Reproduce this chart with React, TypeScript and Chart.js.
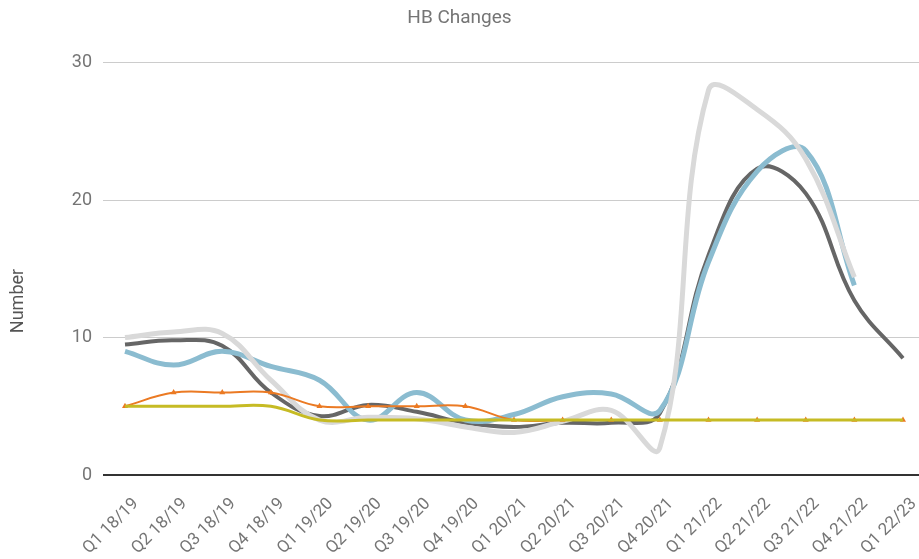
import { useEffect, useRef } from 'react';
import { Chart, registerables } from 'chart.js';

Chart.register(...registerables);

const categories = [
  'Q1 18/19', 'Q2 18/19', 'Q3 18/19', 'Q4 18/19',
  'Q1 19/20', 'Q2 19/20', 'Q3 19/20', 'Q4 19/20',
  'Q1 20/21', 'Q2 20/21', 'Q3 20/21', 'Q4 20/21',
  'Q1 21/22', 'Q2 21/22', 'Q3 21/22', 'Q4 21/22',
  'Q1 22/23',
];

const seriesDark = [9.5, 9.8, 9.4, 6.0, 4.3, 5.1, 4.6, 3.8, 3.5, 3.8, 3.8, 4.5, 16.0, 22.3, 20.5, 12.7, 8.5];
const seriesBlue = [9.0, 8.0, 9.0, 7.9, 6.9, 4.0, 6.0, 4.0, 4.4, 5.7, 5.9, 4.7, 15.5, 22.1, 23.6, 13.8, null];
const seriesLight = [10.0, 10.4, 10.3, 6.9, 4.0, 4.2, 4.1, 3.5, 3.1, 3.9, 4.7, 2.0, 28.0, 26.6, 23.0, 14.4, null];
const seriesOrange = [5, 6, 6, 6, 5, 5, 5, 5, 4, 4, 4, 4, 4, 4, 4, 4, 4];
const seriesOlive = [5, 5, 5, 5, 4, 4, 4, 4, 4, 4, 4, 4, 4, 4, 4, 4, 4];
const yTicks = [0, 10, 20, 30];
const yAxisTitle = 'Number';

const TEXT = '#757575';
const FONT = 'Roboto';

const gridColor = (ctx: any) => (ctx.tick && ctx.tick.value === 0 ? '#333333' : '#cccccc');
const gridWidth = (ctx: any) => (ctx.tick && ctx.tick.value === 0 ? 2 : 1);

const yTitlePlugin = {
  id: 'yTitlePlugin',
  afterDraw(chart: any) {
    const ctx = chart.ctx;
    const area = chart.chartArea;
    ctx.save();
    ctx.translate(18, area.bottom - 174);
    ctx.rotate(-Math.PI / 2);
    ctx.fillStyle = '#555555';
    ctx.font = `18px ${FONT}`;
    ctx.textAlign = 'center';
    ctx.textBaseline = 'middle';
    ctx.fillText(yAxisTitle, 0, 0);
    ctx.restore();
  },
};

export default function App() {
  const ref = useRef<HTMLCanvasElement | null>(null);

  useEffect(() => {
    document.body.style.margin = '0';
    const canvas = ref.current;
    if (!canvas) return;
    const chart = new Chart(canvas, {
      type: 'line',
      data: {
        labels: categories,
        datasets: [
          { data: seriesOlive, borderColor: '#c6bb24', borderWidth: 3, pointRadius: 0, tension: 0.4 },
          {
            data: seriesOrange, borderColor: '#eb7a23', borderWidth: 2, tension: 0.4,
            pointStyle: 'triangle', pointRadius: 3.5, pointBackgroundColor: '#eb7a23', pointBorderWidth: 0,
          },
          { data: seriesLight, borderColor: '#d9d9d9', borderWidth: 5, pointRadius: 0, tension: 0.4 },
          { data: seriesBlue, borderColor: '#8bbcd0', borderWidth: 5, pointRadius: 0, tension: 0.4 },
          { data: seriesDark, borderColor: '#666666', borderWidth: 4, pointRadius: 0, tension: 0.4 },
        ],
      },
      options: {
        responsive: false,
        animation: false,
        layout: { padding: 0 },
        plugins: {
          legend: { display: false },
          tooltip: { enabled: false },
          title: {
            display: true,
            text: 'HB Changes',
            color: TEXT,
            font: { family: FONT, size: 19, weight: 'normal' },
            padding: { top: 7, bottom: 33 },
          },
        },
        scales: {
          x: {
            type: 'category',
            offset: false,
            grid: { display: false, drawTicks: true, tickLength: 15 },
            border: { display: false },
            ticks: {
              color: TEXT,
              font: { family: FONT, size: 17 },
              maxRotation: 45,
              minRotation: 45,
              autoSkip: false,
              labelOffset: 11,
              padding: 4,
            },
            afterFit: (s: any) => { s.height = 84; s.paddingLeft = 0; s.paddingRight = 0; },
          },
          y: {
            min: 0,
            max: 30,
            afterBuildTicks: (s: any) => { s.ticks = yTicks.map((v) => ({ value: v })); },
            ticks: { color: TEXT, font: { family: FONT, size: 18 }, padding: 11 },
            grid: { color: gridColor, lineWidth: gridWidth, tickLength: 22, drawTicks: true },
            border: { display: false },
            title: { display: false, text: yAxisTitle },
            afterFit: (s: any) => { s.width = 125; },
          },
          y2: {
            position: 'right',
            min: 0,
            max: 30,
            afterBuildTicks: (s: any) => { s.ticks = yTicks.map((v) => ({ value: v })); },
            ticks: { display: false },
            grid: { color: gridColor, lineWidth: gridWidth, tickLength: 16, drawOnChartArea: false, drawTicks: true },
            border: { display: false },
            afterFit: (s: any) => { s.width = 16; },
          },
        },
      },
      plugins: [yTitlePlugin],
    } as any);
    return () => chart.destroy();
  }, []);

  return (
    <div style={{ width: 919, height: 559 }}>
      <canvas ref={ref} width={919} height={559} style={{ display: 'block' }} />
    </div>
  );
}
